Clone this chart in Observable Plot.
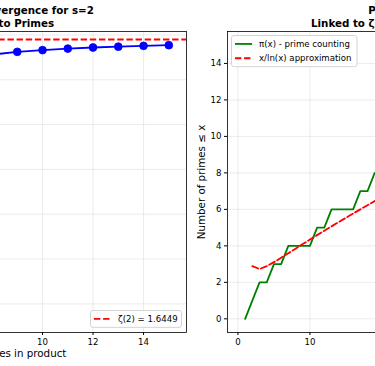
<!DOCTYPE html>
<html>
<head>
<meta charset="utf-8">
<script src="https://cdn.jsdelivr.net/npm/d3@7"></script>
<script src="https://cdn.jsdelivr.net/npm/@observablehq/plot@0.6"></script>
<style>
  html, body { margin: 0; padding: 0; background: white; }
  #wrap { position: relative; width: 375px; height: 366px; overflow: hidden; background: white; }
  #wrap svg { position: absolute; top: 0; max-width: none !important; }
</style>
</head>
<body>
<div id="wrap"></div>
<script>
// ---------- Data ----------
// Left panel: partial Euler products for s=2 over the first n primes
const nPrimes = [1, 2, 3, 4, 5, 6, 7, 8, 9, 10, 11, 12, 13, 14, 15];
const partialProducts = [1.33333, 1.5, 1.5625, 1.59505, 1.60834, 1.61792, 1.62354, 1.62805,
  1.63113, 1.63307, 1.63477, 1.63597, 1.63694, 1.63783, 1.63857];
const zeta2 = 1.644934;
const zetaLabel = "ζ(2) = 1.6449";
const leftXTicks = [2, 4, 6, 8, 10, 12, 14];
const leftYTicks = [1.35, 1.40, 1.45, 1.50, 1.55, 1.60, 1.65];
const leftTitle = "Euler Product Convergence for s=2\nConnection to Primes";
const leftXLabel = "Number of primes in product";
const leftYLabel = "Partial product value";

// Right panel: prime counting function and x/ln(x)
const xValues = [1, 2, 3, 4, 5, 6, 7, 8, 9, 10, 11, 12, 13, 14, 15, 16, 17, 18, 19, 20,
  21, 22, 23, 24, 25, 26, 27, 28, 29, 30, 31, 32, 33, 34, 35, 36, 37, 38, 39, 40,
  41, 42, 43, 44, 45, 46, 47, 48, 49, 50];
const piValues = [0, 1, 2, 2, 3, 3, 4, 4, 4, 4, 5, 5, 6, 6, 6, 6, 7, 7, 8, 8,
  8, 8, 9, 9, 9, 9, 9, 9, 10, 10, 11, 11, 11, 11, 11, 11, 12, 12, 12, 12,
  13, 13, 14, 14, 14, 14, 15, 15, 15, 15];
const approxX = [2, 3, 4, 5, 6, 7, 8, 9, 10, 11, 12, 13, 14, 15, 16, 17, 18, 19, 20,
  21, 22, 23, 24, 25, 26, 27, 28, 29, 30, 31, 32, 33, 34, 35, 36, 37, 38, 39, 40,
  41, 42, 43, 44, 45, 46, 47, 48, 49, 50];
const approxValues = [2.885, 2.731, 2.885, 3.107, 3.349, 3.597, 3.847, 4.096, 4.343, 4.587,
  4.829, 5.068, 5.305, 5.539, 5.771, 6.000, 6.228, 6.453, 6.676, 6.898, 7.117, 7.335,
  7.552, 7.767, 7.980, 8.192, 8.403, 8.612, 8.820, 9.027, 9.233, 9.438, 9.642, 9.844,
  10.046, 10.247, 10.447, 10.646, 10.843, 11.041, 11.237, 11.432, 11.627, 11.821,
  12.014, 12.207, 12.399, 12.590, 12.781];
const rightXTicks = [0, 10, 20, 30, 40, 50];
const rightYTicks = [0, 2, 4, 6, 8, 10, 12, 14];
const rightTitle = "Prime Distribution\nLinked to ζ(s) through Euler's Product";
const rightXLabel = "x";
const rightYLabel = "Number of primes ≤ x";
const piLabel = "π(x) - prime counting";
const approxLabel = "x/ln(x) approximation";

// ---------- Helpers ----------
const FONT = "DejaVu Sans";
const gridStyle = {stroke: "#b0b0b0", strokeOpacity: 0.3, strokeWidth: 0.8};
const axisStyle = {tickSize: 3, tickPadding: 3, label: null, fontSize: 8.6};
const dash = "6.4,2.75";
const titleStyle = {frameAnchor: "top", dy: -15, fontSize: 10.3, fontWeight: "bold", lineHeight: 1.19, lineAnchor: "middle", textAnchor: "middle"};
const xLabelStyle = {frameAnchor: "bottom", dy: 21.5, fontSize: 10.3, lineAnchor: "middle", textAnchor: "middle"};

const leftData = nPrimes.map((n, i) => ({n, v: partialProducts[i]}));
const piData = xValues.map((x, i) => ({x, y: piValues[i]}));
const approxData = approxX.map((x, i) => ({x, y: approxValues[i]}));

const wrap = document.getElementById("wrap");

function place(svg, x, w, h) {
  svg.style.left = x + "px";
  svg.style.width = w + "px";
  svg.style.height = h + "px";
  svg.style.maxWidth = "none";
}

// ---------- Left panel ----------
const left = Plot.plot({
  width: 459, height: 366,
  marginLeft: 60, marginRight: 10, marginTop: 31, marginBottom: 34,
  style: {fontFamily: FONT, fontSize: "8.6px", background: "transparent", overflow: "visible"},
  x: {domain: [0.3, 15.7]},
  y: {domain: [1.31807, 1.65383]},
  marks: [
    Plot.gridX(leftXTicks, gridStyle),
    Plot.gridY(leftYTicks, gridStyle),
    Plot.ruleY([zeta2], {stroke: "red", strokeWidth: 1.8, strokeDasharray: dash}),
    Plot.line(leftData, {x: "n", y: "v", stroke: "blue", strokeWidth: 1.8}),
    Plot.dot(leftData, {x: "n", y: "v", r: 3.9, fill: "blue", stroke: "blue", strokeWidth: 0.8}),
    Plot.frame({stroke: "black", strokeWidth: 0.8}),
    Plot.axisX(leftXTicks, axisStyle),
    Plot.axisY(leftYTicks, {...axisStyle, tickFormat: d3.format(".2f")}),
    Plot.text([leftTitle], titleStyle),
    Plot.text([leftXLabel], xLabelStyle),
    Plot.text([leftYLabel], {frameAnchor: "left", rotate: -90, dx: -40, fontSize: 10.3, textAnchor: "middle", lineAnchor: "middle"})
  ]
});
place(left, -263, 459, 366);
wrap.appendChild(left);

// ---------- Right panel ----------
const right = Plot.plot({
  width: 438, height: 366,
  marginLeft: 40, marginRight: 10, marginTop: 31, marginBottom: 34,
  style: {fontFamily: FONT, fontSize: "8.6px", background: "transparent", overflow: "visible"},
  x: {domain: [-1.45, 52.45]},
  y: {domain: [-0.75, 15.75]},
  marks: [
    Plot.gridX(rightXTicks, gridStyle),
    Plot.gridY(rightYTicks, gridStyle),
    Plot.line(piData, {x: "x", y: "y", stroke: "green", strokeWidth: 1.8}),
    Plot.line(approxData, {x: "x", y: "y", stroke: "red", strokeWidth: 1.8, strokeDasharray: dash}),
    Plot.frame({stroke: "black", strokeWidth: 0.8}),
    Plot.axisX(rightXTicks, axisStyle),
    Plot.axisY(rightYTicks, axisStyle),
    Plot.text([rightTitle], titleStyle),
    Plot.text([rightXLabel], xLabelStyle),
    Plot.text([rightYLabel], {frameAnchor: "left", rotate: -90, dx: -25.3, fontSize: 10.3, textAnchor: "middle", lineAnchor: "middle"})
  ]
});
place(right, 187, 438, 366);
wrap.appendChild(right);

// ---------- Legends (matplotlib-style boxes) ----------
function makeLegend(x, y, w, items) {
  const ns = "http://www.w3.org/2000/svg";
  const rowH = 14.3, pad = 3.44;
  const h = pad * 2 + 10 + (items.length - 1) * rowH;
  const svg = document.createElementNS(ns, "svg");
  svg.setAttribute("width", w + 2);
  svg.setAttribute("height", h + 2);
  svg.style.left = (x - 0.5) + "px";
  svg.style.top = (y - 0.5) + "px";
  const rect = document.createElementNS(ns, "rect");
  rect.setAttribute("x", 0.5); rect.setAttribute("y", 0.5);
  rect.setAttribute("width", w); rect.setAttribute("height", h);
  rect.setAttribute("rx", 2.5);
  rect.setAttribute("fill", "white"); rect.setAttribute("fill-opacity", 0.8);
  rect.setAttribute("stroke", "#cccccc"); rect.setAttribute("stroke-width", 0.85);
  svg.appendChild(rect);
  items.forEach((it, i) => {
    const cy = 0.5 + pad + 5 + i * rowH;
    const line = document.createElementNS(ns, "line");
    line.setAttribute("x1", 0.5 + pad); line.setAttribute("x2", 0.5 + pad + 17.2);
    line.setAttribute("y1", cy); line.setAttribute("y2", cy);
    line.setAttribute("stroke", it.color); line.setAttribute("stroke-width", 1.8);
    if (it.dash) line.setAttribute("stroke-dasharray", it.dash);
    svg.appendChild(line);
    const t = document.createElementNS(ns, "text");
    t.setAttribute("x", 0.5 + pad + 17.2 + 6.9);
    t.setAttribute("y", cy);
    t.setAttribute("dy", "0.35em");
    t.setAttribute("font-family", FONT);
    t.setAttribute("font-size", "8.6px");
    t.setAttribute("fill", "black");
    t.textContent = it.label;
    svg.appendChild(t);
  });
  wrap.appendChild(svg);
}
makeLegend(90.8, 310.7, 91, [{label: zetaLabel, color: "red", dash: dash}]);
makeLegend(231.3, 35.8, 125.5, [
  {label: piLabel, color: "green"},
  {label: approxLabel, color: "red", dash: dash}
]);
</script>
</body>
</html>
